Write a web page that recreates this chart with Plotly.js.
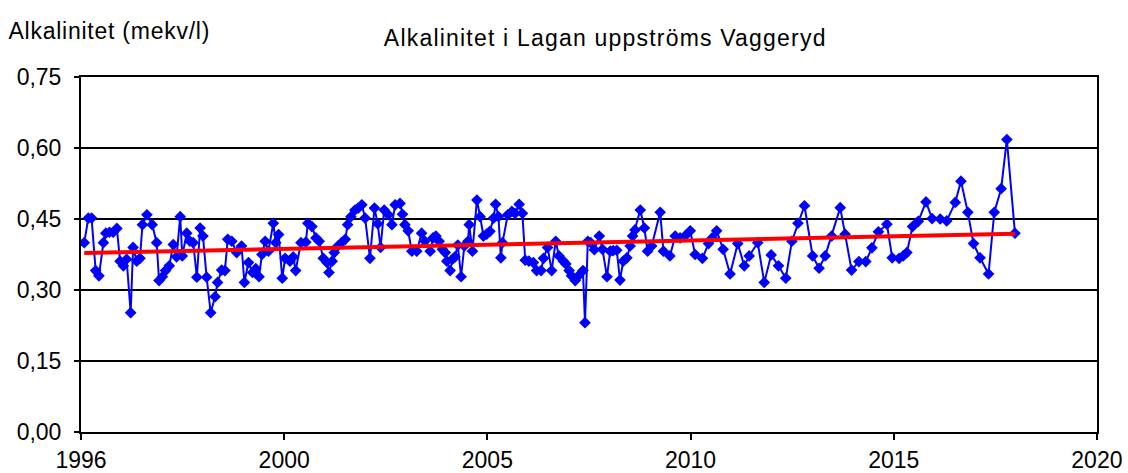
<!DOCTYPE html>
<html>
<head>
<meta charset="utf-8">
<script src="https://cdn.plot.ly/plotly-3.0.1.min.js"></script>
<style>
html,body{margin:0;padding:0;background:#fff;}
#chart{width:1128px;height:473px;}
#chart .gtitle{letter-spacing:1.2px;}
#chart .annotation-text{letter-spacing:0.75px;}
</style>
</head>
<body>
<div id="chart"></div>
<script>
// Sampling times (decimal years)
const sampleYears = [
1996.08,1996.18,1996.26,1996.36,1996.44,1996.55,1996.61,1996.70,1996.79,1996.88,1996.96,
1997.04,1997.12,1997.22,1997.28,1997.37,1997.45,1997.51,1997.62,1997.75,1997.86,1997.92,
1998.00,1998.08,1998.17,1998.27,1998.35,1998.44,1998.49,1998.60,1998.68,1998.76,1998.85,1998.93,
1999.00,1999.09,1999.19,1999.30,1999.36,1999.46,1999.54,1999.61,1999.71,1999.83,1999.95,
2000.02,2000.12,2000.22,2000.30,2000.38,2000.45,2000.53,2000.61,2000.73,2000.79,2000.86,2000.95,
2001.02,2001.14,2001.22,2001.28,2001.41,2001.53,2001.58,2001.68,2001.78,2001.86,2001.96,
2002.05,2002.10,2002.18,2002.23,2002.32,2002.41,2002.50,2002.56,2002.64,2002.74,2002.82,2002.91,2002.99,
2003.11,2003.22,2003.30,2003.37,2003.46,2003.56,2003.65,2003.73,2003.85,2003.91,2003.97,
2004.05,2004.14,2004.26,2004.38,2004.46,2004.59,2004.66,2004.73,2004.81,2004.89,2004.96,
2005.00,2005.08,2005.14,2005.20,2005.27,2005.35,2005.43,2005.52,2005.55,2005.63,2005.74,2005.82,2005.90,2005.98,
2006.06,2006.15,2006.20,2006.27,2006.33,2006.37,2006.50,2006.60,2006.68,2006.78,2006.86,2006.93,
2007.02,2007.13,2007.21,2007.32,2007.38,2007.48,2007.58,2007.68,2007.76,2007.87,2007.93,
2008.01,2008.07,2008.16,2008.24,2008.35,2008.40,2008.47,2008.54,2008.63,2008.75,2008.83,2008.94,
2009.02,2009.09,2009.18,2009.26,2009.34,2009.43,2009.51,2009.57,2009.63,2009.76,2009.86,2009.94,
2010.04,2010.25,2010.33,2010.49,2010.62,2010.74,2010.86,2010.99,
2011.11,2011.29,2011.44,2011.53,2011.64,2011.80,2011.97,
2012.16,2012.32,2012.44,2012.65,2012.81,2012.98,
2013.16,2013.34,2013.49,2013.64,2013.80,
2014.00,2014.16,2014.31,2014.47,2014.68,2014.80,2014.96,
2015.14,2015.31,2015.46,2015.62,2015.83,2015.96,
2016.13,2016.23,2016.32,2016.46,2016.60,2016.79,2016.94,
2017.14,2017.30,2017.51,2017.65,2017.82,2017.96,
2018.12,2018.33,2018.47,2018.64,2018.78,2018.98
];
// Alkalinity (mekv/l)
const alkalinity = [
0.400,0.452,0.452,0.341,0.330,0.400,0.420,0.422,0.422,0.430,0.361,
0.351,0.365,0.252,0.390,0.361,0.367,0.438,0.459,0.438,0.400,0.320,
0.328,0.341,0.351,0.396,0.370,0.455,0.372,0.420,0.403,0.400,0.327,0.431,
0.414,0.327,0.252,0.286,0.316,0.342,0.341,0.407,0.403,0.379,0.393,
0.316,0.358,0.337,0.345,0.328,0.375,0.403,0.382,0.441,0.400,0.417,0.325,
0.367,0.361,0.370,0.341,0.400,0.401,0.441,0.434,0.410,0.403,0.367,
0.358,0.337,0.361,0.379,0.393,0.400,0.407,0.438,0.455,0.469,0.473,0.480,0.452,
0.367,0.473,0.440,0.390,0.469,0.459,0.438,0.480,0.483,0.460,0.438,
0.425,0.382,0.382,0.420,0.403,0.382,0.410,0.414,0.403,0.386,0.379,
0.361,0.341,0.365,0.370,0.395,0.328,0.393,0.403,0.438,0.382,0.490,0.455,0.414,0.418,
0.424,0.452,0.481,0.455,0.368,0.400,0.459,0.466,0.462,0.481,0.462,0.363,
0.361,0.358,0.341,0.341,0.367,0.390,0.341,0.403,0.372,0.361,0.355,
0.341,0.330,0.320,0.330,0.341,0.231,0.403,0.400,0.385,0.414,0.386,0.328,
0.382,0.383,0.384,0.321,0.361,0.368,0.393,0.414,0.427,0.469,0.431,0.382,
0.393,0.464,0.382,0.372,0.414,0.410,0.414,0.425,
0.375,0.367,0.398,0.410,0.425,0.386,0.334,
0.398,0.351,0.372,0.400,0.316,0.374,
0.351,0.325,0.403,0.441,0.478,
0.372,0.346,0.372,0.414,0.474,0.418,0.342,
0.360,0.360,0.389,0.423,0.439,0.368,
0.367,0.372,0.379,0.434,0.445,0.486,0.451,
0.450,0.446,0.485,0.530,0.464,0.398,
0.368,0.334,0.464,0.514,0.618,0.420
];
// Linear trend (start and end)
const trendYears = [1996.08, 2018.98];
const trendValues = [0.378, 0.419];

const yTickVals = [0, 0.15, 0.30, 0.45, 0.60, 0.75];

function yearToDate(t) {
  const y = Math.floor(t);
  const s = Date.UTC(y, 0, 1), e = Date.UTC(y + 1, 0, 1);
  return new Date(s + (t - y) * (e - s)).toISOString().slice(0, 19);
}

const font = 'Liberation Sans, Arial, sans-serif';

const data = [
  {
    type: 'scatter', mode: 'lines+markers',
    x: sampleYears.map(yearToDate), y: alkalinity,
    line: {color: '#0000FF', width: 2},
    marker: {symbol: 'diamond', size: 9, color: '#0000FF'},
    hoverinfo: 'x+y'
  },
  {
    type: 'scatter', mode: 'lines',
    x: trendYears.map(yearToDate), y: trendValues,
    line: {color: '#FF0000', width: 4},
    hoverinfo: 'skip'
  }
];

const layout = {
  width: 1128, height: 473,
  margin: {l: 81, r: 31, t: 77, b: 41},
  paper_bgcolor: '#ffffff', plot_bgcolor: '#ffffff',
  showlegend: false,
  separators: ', ',
  font: {family: font, size: 23, color: '#000'},
  title: {
    text: 'Alkalinitet i Lagan uppströms Vaggeryd',
    font: {family: font, size: 23, color: '#000'},
    x: 0.516, xref: 'paper', xanchor: 'center',
    y: 0.919, yref: 'container', yanchor: 'middle'
  },
  xaxis: {
    type: 'date',
    range: ['1996-01-01', '2020-12-31'],
    tick0: '1996-01-01', dtick: 1826 * 86400000,
    tickformat: '%Y',
    showgrid: false, zeroline: false,
    showline: true, linecolor: '#000', linewidth: 2, mirror: true,
    ticks: 'outside', ticklen: 6, tickwidth: 2, tickcolor: '#000',
    tickfont: {family: font, size: 23, color: '#000'},
    fixedrange: true
  },
  yaxis: {
    range: [0, 0.75],
    tickvals: yTickVals, tickformat: '.2f',
    showgrid: true, gridcolor: '#000', gridwidth: 1.6,
    zeroline: false,
    showline: true, linecolor: '#000', linewidth: 2, mirror: true,
    ticks: 'outside', ticklen: 5, tickwidth: 2, tickcolor: '#000',
    ticklabelstandoff: 8,
    tickfont: {family: font, size: 23, color: '#000'},
    fixedrange: true
  },
  annotations: [{
    text: 'Alkalinitet (mekv/l)',
    xref: 'paper', yref: 'paper', x: -0.066, y: 1.0,
    xanchor: 'left', yanchor: 'bottom', yshift: 31,
    showarrow: false,
    font: {family: font, size: 23, color: '#000'}
  }]
};

Plotly.newPlot('chart', data, layout, {displayModeBar: false, staticPlot: true});
</script>
</body>
</html>
